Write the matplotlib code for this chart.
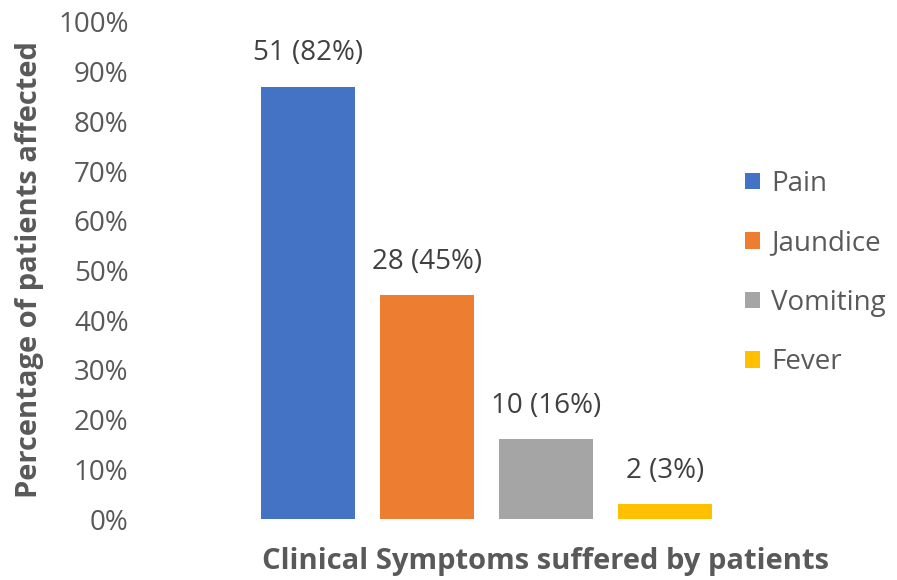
import matplotlib
matplotlib.use("Agg")
import matplotlib.pyplot as plt
from matplotlib.patches import Patch

categories = ["Pain", "Jaundice", "Vomiting", "Fever"]
values = [87, 45, 16, 3]
labels = ["51 (82%)", "28 (45%)", "10 (16%)", "2 (3%)"]
colors = ["#4472C4", "#ED7D31", "#A5A5A5", "#FFC000"]
yticks = list(range(0, 101, 10))

plt.rcParams['font.family'] = ['Open Sans', 'DejaVu Sans']

fig = plt.figure(figsize=(8.97, 5.8), dpi=100)
ax = fig.add_axes([248/897, 61/580, 477/897, 497/580])
x = list(range(len(categories)))
bars = ax.bar(x, values, width=0.79, color=colors)
for xi, v, lab in zip(x, values, labels):
    ax.annotate(lab, (xi, v), xytext=(0, 24), textcoords='offset points',
                ha='center', va='center', fontsize=20, color='#404040')
ax.set_xlim(-0.5, 3.5)
ax.set_ylim(0, 100)
ax.set_yticks(yticks)
ax.set_yticklabels([f"{t}%" for t in yticks], fontsize=20, color='#595959')
ax.set_xticks([])
ax.tick_params(axis='y', length=0, pad=86)
for s in ax.spines.values():
    s.set_visible(False)

fig.text(30/897, 1 - 270/580, "Percentage of patients affected", rotation=90,
         ha='center', va='center', fontsize=21, fontweight='bold', color='#595959')
fig.text(545/897, 1 - 562/580, "Clinical Symptoms suffered by patients",
         ha='center', va='center', fontsize=21, fontweight='bold', color='#595959')

handles = [Patch(facecolor=c, edgecolor='none') for c in colors]
leg = fig.legend(handles, categories, loc='center left',
                 bbox_to_anchor=(745/897, 1 - 273/580), frameon=False,
                 fontsize=20, labelcolor='#595959', handlelength=0.55,
                 handleheight=0.55, handletextpad=0.4, labelspacing=1.13,
                 borderpad=0, borderaxespad=0)

fig.savefig("out.png", dpi=100)
